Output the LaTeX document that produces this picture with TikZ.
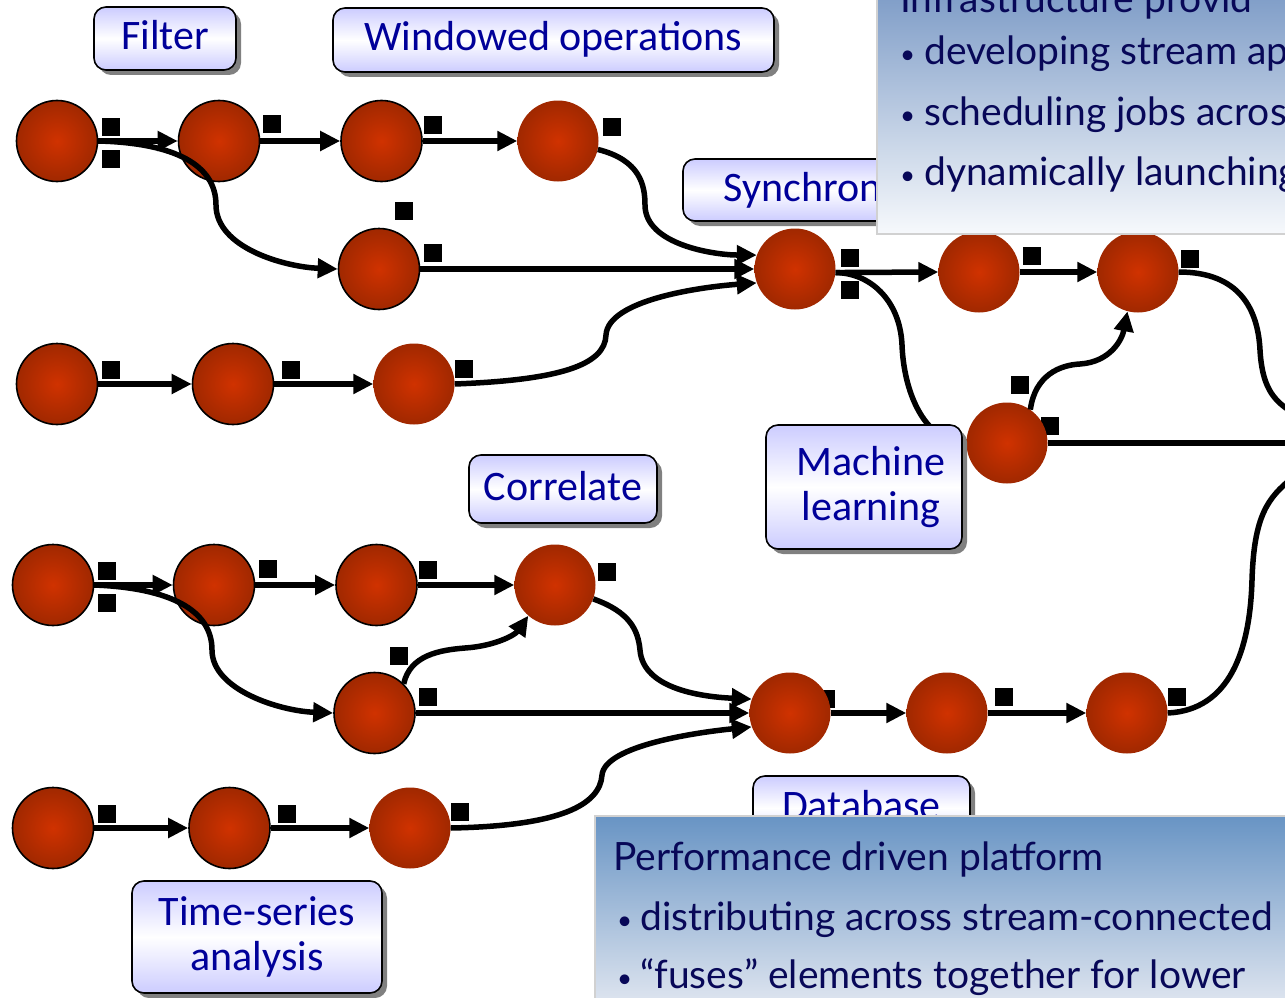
\documentclass[tikz,border=0pt]{standalone}
\usepackage{fontspec}
\setmainfont{Carlito}
\newfontfamily\notefont{Lato}
\usetikzlibrary{arrows.meta,shadows}

\definecolor{tagtext}{RGB}{0,0,153}
\definecolor{tagfill}{RGB}{204,204,255}
\definecolor{notetext}{RGB}{8,8,88}
\definecolor{pecore}{RGB}{208,50,0}
\definecolor{perim}{RGB}{160,40,0}
\definecolor{infratop}{RGB}{128,158,200}
\definecolor{infrabot}{RGB}{247,249,252}
\definecolor{perftop}{RGB}{104,148,196}
\definecolor{perfbot}{RGB}{224,230,240}

% small round bullet in a fixed-width slot
\newcommand{\notebullet}[1]{\makebox[#1][l]{\raisebox{1pt}{\fontsize{26}{26}\selectfont•}}}

\tikzset{
  pe/.style={circle, minimum size=81pt, inner sep=0pt, inner color=pecore, outer color=perim},
  peo/.style={pe, draw=black, line width=1.6pt},
  port/.style={rectangle, fill=black, minimum size=18pt, inner sep=0pt},
  wire/.style={line width=5.5pt},
  flow/.style={wire, -{Triangle[length=20pt,width=19pt]}},
  tag/.style={rectangle, draw=black, line width=1.6pt, rounded corners=12pt,
    top color=tagfill, bottom color=tagfill, middle color=white,
    text=tagtext, font=\fontsize{42}{45}\selectfont, align=center,
    drop shadow={shadow xshift=5pt, shadow yshift=-5pt, fill=black!50, opacity=1}},
  onetag/.style={tag, text height=30pt, text depth=8pt},
  note/.style={rectangle, draw=black!18, line width=2pt, anchor=north west, inner sep=0pt},
  notetxt/.style={anchor=base west, inner sep=0pt, text=notetext, font=\notefont\fontsize{39}{42}\selectfont},
}

\begin{document}
\begin{tikzpicture}[x=1pt,y=-1pt]
\useasboundingbox (0,0) rectangle (1285,998);
\clip (0,0) rectangle (1285,998);
\fill[white] (0,0) rectangle (1285,998);

% ---- output ports (small black squares) ----
\node[port] (pA1a) at (111,127) {};
\node[port] (pA1b) at (111,159) {};
\node[port] (pA2) at (272,124) {};
\node[port] (pA3) at (433,125) {};
\node[port] (pA4) at (612,127) {};
\node[port] (pBa) at (403.5,211) {};
\node[port] (pBb) at (432.5,253) {};
\node[port] (pC1) at (111,370) {};
\node[port] (pC2) at (291,370) {};
\node[port] (pC3) at (464,369) {};
\node[port] (pSa) at (850,258) {};
\node[port] (pSb) at (850,290) {};
\node[port] (pT1) at (1032,256) {};
\node[port] (pT2) at (1190,259) {};
\node[port] (pMa) at (1020,385) {};
\node[port] (pMb) at (1050,426) {};
\node[port] (pD1a) at (106.5,571) {};
\node[port] (pD1b) at (106.5,603) {};
\node[port] (pD2) at (267.5,569) {};
\node[port] (pD3) at (428,570) {};
\node[port] (pD4) at (607,572) {};
\node[port] (pEa) at (399,656) {};
\node[port] (pEb) at (428,697) {};
\node[port] (pF1) at (107,814) {};
\node[port] (pF2) at (287,814) {};
\node[port] (pF3) at (460,812) {};
\node[port] (pG1) at (826,699) {};
\node[port] (pG2) at (1004,697) {};
\node[port] (pG3) at (1177,697) {};

% ---- processing elements ----
\node[peo] (A1) at (57,141) {};
\node[peo] (A2) at (219,141) {};
\node[peo] (A3) at (381.5,141) {};
\node[pe]  (A4) at (558,141) {};
\node[peo] (B)  at (379,269) {};
\node[peo] (C1) at (57,384) {};
\node[peo] (C2) at (233,384) {};
\node[pe]  (C3) at (414,384) {};
\node[pe]  (S)  at (795,269) {};
\node[pe]  (T1) at (979,272) {};
\node[pe]  (T2) at (1138,272) {};
\node[pe]  (M)  at (1007,443) {};
\node[peo] (D1) at (53,585) {};
\node[peo] (D2) at (214,585) {};
\node[peo] (D3) at (376.5,585) {};
\node[pe]  (D4) at (555,585) {};
\node[peo] (E)  at (374.5,713) {};
\node[peo] (F1) at (53,828) {};
\node[peo] (F2) at (229.5,828) {};
\node[pe]  (F3) at (410,828) {};
\node[pe]  (G1) at (790,713) {};
\node[pe]  (G2) at (947,713) {};
\node[pe]  (G3) at (1127,713) {};

\coordinate (mlout) at (1292,443);
\coordinate (t2out) at (1292,412);
\coordinate (g3out) at (1292,478);

% ---- streams ----
\draw[flow] (A1.east) -- (A2.west);
\draw[flow] (A2.east) -- (A3.west);
\draw[flow] (A3.east) -- (A4.west);
\draw[flow] (A1.east) .. controls (175,143) and (216,165) .. (216,205)
                      .. controls (216,248) and (285,267) .. (B.west);
\draw[flow] (A4.-12) .. controls (640,160) and (645,185) .. (645,205)
                     .. controls (645,245) and (715,255) .. (S.160);
\draw[flow] (B.east) -- (S.west);
\draw[flow] (C1.east) -- (C2.west);
\draw[flow] (C2.east) -- (C3.west);
\draw[flow] (C3.east) .. controls (560,380) and (605,365) .. (606,335)
                      .. controls (608,300) and (700,287) .. (S.200);
\draw[flow] (S.-5) -- (T1.west);
\draw[flow] (T1.east) -- (T2.west);
\draw[flow] (S.-5) .. controls (870,273) and (900,300) .. (902,345)
                   .. controls (904,395) and (925,432) .. (M.west);
\draw[flow] (M.55) .. controls (1035,375) and (1060,365) .. (1080,364)
                   .. controls (1110,362) and (1122,340) .. (T2.-105);
\draw[wire] (M.east) -- (mlout);
\draw[wire] (T2.east) .. controls (1240,272) and (1258,310) .. (1260,350)
                      .. controls (1262,385) and (1272,400) .. (t2out);

\draw[flow] (D1.east) -- (D2.west);
\draw[flow] (D2.east) -- (D3.west);
\draw[flow] (D3.east) -- (D4.west);
\draw[flow] (D1.east) .. controls (170,588) and (212,610) .. (212,650)
                      .. controls (212,690) and (280,711) .. (E.west);
\draw[flow] (E.45) .. controls (410,655) and (440,650) .. (465,648)
                   .. controls (495,646) and (515,635) .. (D4.-131);
\draw[flow] (D4.-20) .. controls (630,612) and (638,630) .. (640,650)
                     .. controls (643,690) and (705,697) .. (G1.160);
\draw[flow] (E.east) -- (G1.west);
\draw[flow] (F1.east) -- (F2.west);
\draw[flow] (F2.east) -- (F3.west);
\draw[flow] (F3.east) .. controls (560,826) and (600,805) .. (602,775)
                      .. controls (605,745) and (700,732) .. (G1.200);
\draw[flow] (G1.east) -- (G2.west);
\draw[flow] (G2.east) -- (G3.west);
\draw[wire] (G3.east) .. controls (1230,710) and (1250,650) .. (1252,580)
                      .. controls (1254,515) and (1268,498) .. (g3out);

% ---- operator labels ----
\node[onetag, minimum width=142pt, minimum height=63pt] (lfilter) at (165,38.5) {Filter};
\node[onetag, minimum width=441pt, minimum height=64pt] (lwindow) at (553.5,40) {Windowed operations};
\node[onetag, minimum width=286pt, minimum height=62pt] (lsync) at (826,190) {Synchronize};
\node[onetag, minimum width=188pt, minimum height=68pt] (lcorr) at (563,489) {Correlate};
\node[tag, minimum width=196pt, minimum height=124pt] (lml) at (864,487) {\hspace*{14pt}Machine\\\hspace*{14pt}learning};
\node[tag, minimum width=250pt, minimum height=112pt] (lts) at (257,937) {Time-series\\analysis};
\node[onetag, minimum width=217pt, minimum height=64pt] (ldb) at (861.5,808) {Database};

% ---- notes ----
\node[note, top color=infratop, bottom color=infrabot, minimum width=430pt, minimum height=237pt] (infra) at (876,-4) {};
\node[notetxt] (infra0) at (900,13) {Infrastructure provid};
\node[notetxt] (infra1) at (900,64) {\notebullet{24pt}developing stream ap};
\node[notetxt] (infra2) at (900,125) {\notebullet{24pt}scheduling jobs acros};
\node[notetxt] (infra3) at (900,185) {\notebullet{24pt}dynamically launching};

\node[note, top color=perftop, bottom color=perfbot, minimum width=700pt, minimum height=190pt] (perf) at (594,815) {};
\node[notetxt] (perf0) at (613,870) {Performance driven platform};
\node[notetxt] (perf1) at (617,930) {\notebullet{23pt}distributing across stream-connected};
\node[notetxt] (perf2) at (617,988) {\notebullet{23pt}“fuses” elements together for lower};
\end{tikzpicture}
\end{document}
